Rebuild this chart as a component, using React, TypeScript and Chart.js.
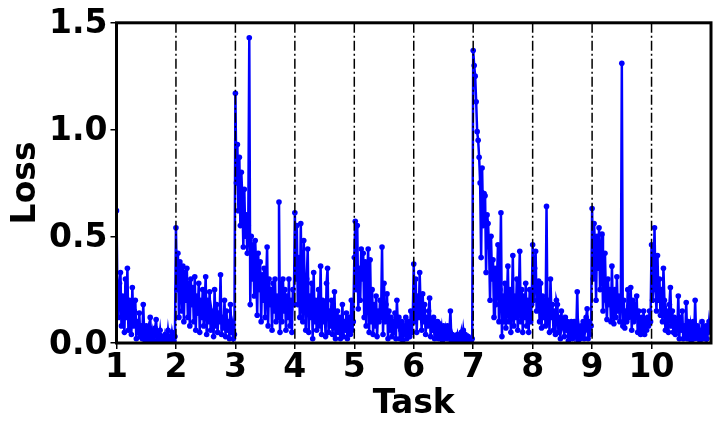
import React, { useEffect, useRef } from "react";
import { Chart, registerables } from "chart.js";

Chart.register(...registerables);

// Loss values per task (60 steps each)
const task1 = [0.62, 0.2, 0.12, 0.28, 0.33, 0.08, 0.22, 0.15, 0.05, 0.3, 0.12, 0.35, 0.06, 0.2, 0.1, 0.04, 0.26, 0.08, 0.15, 0.2, 0.02, 0.1, 0.05, 0.14, 0.03, 0.08, 0.02, 0.18, 0.04, 0.01, 0.08, 0.03, 0.06, 0.01, 0.12, 0.02, 0.05, 0.01, 0.03, 0.07, 0.11, 0.01, 0.04, 0.02, 0.06, 0.01, 0.03, 0.02, 0.01, 0.04, 0.02, 0.01, 0.06, 0.02, 0.03, 0.01, 0.05, 0.02, 0.01, 0.03];
const task2 = [0.54, 0.25, 0.42, 0.12, 0.38, 0.3, 0.15, 0.36, 0.1, 0.33, 0.2, 0.35, 0.12, 0.28, 0.08, 0.3, 0.18, 0.26, 0.1, 0.31, 0.06, 0.22, 0.14, 0.28, 0.05, 0.2, 0.12, 0.25, 0.08, 0.18, 0.31, 0.04, 0.2, 0.1, 0.24, 0.06, 0.15, 0.12, 0.03, 0.25, 0.08, 0.18, 0.05, 0.14, 0.1, 0.32, 0.04, 0.12, 0.07, 0.2, 0.03, 0.15, 0.06, 0.1, 0.02, 0.18, 0.05, 0.08, 0.02, 0.04];
const task3 = [1.17, 0.75, 0.93, 0.62, 0.87, 0.55, 0.8, 0.68, 0.45, 0.72, 0.5, 0.6, 0.42, 0.55, 1.43, 0.18, 0.5, 0.3, 0.46, 0.22, 0.48, 0.35, 0.13, 0.42, 0.25, 0.38, 0.1, 0.32, 0.2, 0.35, 0.12, 0.28, 0.45, 0.08, 0.3, 0.18, 0.25, 0.06, 0.28, 0.15, 0.3, 0.1, 0.22, 0.12, 0.66, 0.05, 0.28, 0.1, 0.3, 0.15, 0.25, 0.06, 0.22, 0.12, 0.3, 0.08, 0.2, 0.05, 0.25, 0.18];
const task4 = [0.61, 0.3, 0.55, 0.18, 0.4, 0.12, 0.56, 0.2, 0.1, 0.48, 0.25, 0.06, 0.3, 0.44, 0.05, 0.22, 0.12, 0.28, 0.02, 0.33, 0.1, 0.2, 0.06, 0.15, 0.25, 0.08, 0.36, 0.04, 0.2, 0.1, 0.18, 0.03, 0.28, 0.35, 0.05, 0.15, 0.08, 0.2, 0.04, 0.12, 0.24, 0.02, 0.1, 0.15, 0.05, 0.12, 0.02, 0.08, 0.18, 0.03, 0.1, 0.06, 0.14, 0.02, 0.08, 0.12, 0.04, 0.2, 0.06, 0.1];
const task5 = [0.4, 0.57, 0.25, 0.55, 0.16, 0.35, 0.2, 0.44, 0.3, 0.42, 0.12, 0.38, 0.08, 0.3, 0.44, 0.05, 0.39, 0.1, 0.25, 0.04, 0.18, 0.08, 0.22, 0.03, 0.15, 0.1, 0.2, 0.12, 0.45, 0.04, 0.28, 0.1, 0.18, 0.23, 0.02, 0.15, 0.06, 0.12, 0.03, 0.1, 0.05, 0.14, 0.02, 0.2, 0.08, 0.12, 0.02, 0.06, 0.1, 0.01, 0.08, 0.04, 0.12, 0.02, 0.06, 0.1, 0.03, 0.15, 0.05, 0.12];
const task6 = [0.37, 0.1, 0.3, 0.05, 0.22, 0.12, 0.33, 0.15, 0.06, 0.23, 0.1, 0.18, 0.04, 0.12, 0.08, 0.15, 0.21, 0.03, 0.1, 0.06, 0.12, 0.02, 0.08, 0.05, 0.1, 0.02, 0.09, 0.04, 0.07, 0.01, 0.08, 0.03, 0.06, 0.02, 0.08, 0.03, 0.05, 0.15, 0.01, 0.04, 0.02, 0.03, 0.01, 0.02, 0.04, 0.01, 0.03, 0.02, 0.05, 0.01, 0.06, 0.02, 0.04, 0.01, 0.02, 0.03, 0.01, 0.02, 0.01, 0.02];
const task7 = [1.37, 1.3, 1.25, 1.13, 0.99, 0.95, 0.87, 0.75, 0.4, 0.82, 0.55, 0.7, 0.69, 0.33, 0.6, 0.56, 0.45, 0.2, 0.5, 0.3, 0.39, 0.12, 0.35, 0.18, 0.3, 0.46, 0.1, 0.25, 0.61, 0.03, 0.22, 0.1, 0.28, 0.07, 0.2, 0.36, 0.1, 0.25, 0.05, 0.18, 0.41, 0.08, 0.22, 0.12, 0.3, 0.06, 0.2, 0.43, 0.1, 0.25, 0.05, 0.22, 0.12, 0.28, 0.08, 0.2, 0.05, 0.25, 0.1, 0.18];
const task8 = [0.46, 0.2, 0.35, 0.43, 0.15, 0.25, 0.29, 0.1, 0.28, 0.07, 0.22, 0.12, 0.2, 0.08, 0.64, 0.1, 0.2, 0.05, 0.3, 0.12, 0.18, 0.06, 0.15, 0.04, 0.2, 0.18, 0.05, 0.12, 0.02, 0.15, 0.08, 0.1, 0.03, 0.12, 0.06, 0.1, 0.01, 0.08, 0.03, 0.1, 0.02, 0.06, 0.1, 0.03, 0.05, 0.24, 0.01, 0.06, 0.02, 0.08, 0.03, 0.1, 0.02, 0.06, 0.12, 0.16, 0.02, 0.1, 0.04, 0.08];
const task9 = [0.63, 0.3, 0.56, 0.45, 0.2, 0.5, 0.35, 0.54, 0.25, 0.4, 0.51, 0.15, 0.3, 0.42, 0.2, 0.11, 0.3, 0.18, 0.25, 0.1, 0.36, 0.15, 0.09, 0.25, 0.12, 0.31, 0.15, 0.22, 0.1, 0.2, 1.31, 0.08, 0.2, 0.07, 0.15, 0.1, 0.25, 0.12, 0.18, 0.26, 0.06, 0.2, 0.1, 0.18, 0.12, 0.22, 0.05, 0.15, 0.08, 0.04, 0.12, 0.06, 0.15, 0.04, 0.1, 0.06, 0.12, 0.08, 0.15, 0.1];
const task10 = [0.46, 0.2, 0.3, 0.54, 0.25, 0.15, 0.41, 0.2, 0.3, 0.13, 0.25, 0.1, 0.35, 0.2, 0.06, 0.15, 0.12, 0.05, 0.18, 0.26, 0.08, 0.15, 0.05, 0.12, 0.04, 0.1, 0.06, 0.22, 0.02, 0.12, 0.06, 0.15, 0.02, 0.08, 0.04, 0.19, 0.02, 0.1, 0.05, 0.08, 0.01, 0.06, 0.1, 0.02, 0.2, 0.03, 0.08, 0.02, 0.06, 0.01, 0.05, 0.1, 0.02, 0.06, 0.03, 0.08, 0.02, 0.05, 0.1, 0.06];

const taskLosses = [task1, task2, task3, task4, task5, task6, task7, task8, task9, task10];
const taskTicks = [1, 2, 3, 4, 5, 6, 7, 8, 9, 10];
const boundaryTasks = [2, 3, 4, 5, 6, 7, 8, 9, 10];
const yTicks = [0, 0.5, 1.0, 1.5];

const FONT = "'DejaVu Sans', sans-serif";

export default function App() {
  const ref = useRef<HTMLCanvasElement | null>(null);

  useEffect(() => {
    document.body.style.margin = "0";
    const points: { x: number; y: number }[] = [];
    taskLosses.forEach((arr, t) => {
      arr.forEach((v, i) => points.push({ x: taskTicks[t] + i / arr.length, y: v }));
    });

    const framePlugin = {
      id: "frameAndBoundaries",
      afterDatasetsDraw(chart: any) {
        const { ctx, chartArea, scales } = chart;
        ctx.save();
        ctx.strokeStyle = "#000";
        ctx.lineWidth = 1.5;
        ctx.setLineDash([10, 3, 2, 3]);
        boundaryTasks.forEach((b) => {
          const px = scales.x.getPixelForValue(b);
          ctx.beginPath();
          ctx.moveTo(px, chartArea.top);
          ctx.lineTo(px, chartArea.bottom);
          ctx.stroke();
        });
        ctx.setLineDash([]);
        ctx.lineWidth = 3;
        ctx.strokeRect(chartArea.left, chartArea.top, chartArea.right - chartArea.left, chartArea.bottom - chartArea.top);
        ctx.restore();
      },
    };

    const chart = new Chart(ref.current as HTMLCanvasElement, {
      type: "line",
      data: {
        datasets: [
          {
            data: points,
            borderColor: "#0000ff",
            backgroundColor: "#0000ff",
            borderWidth: 2.5,
            pointRadius: 2.8,
            pointBorderWidth: 0,
            pointBackgroundColor: "#0000ff",
            tension: 0,
          },
        ],
      },
      options: {
        animation: false,
        responsive: false,
        maintainAspectRatio: false,
        layout: { padding: { top: 22, right: 9, left: 0, bottom: 0 } },
        plugins: { legend: { display: false }, tooltip: { enabled: false } },
        scales: {
          x: {
            type: "linear",
            min: 1,
            max: 11,
            afterBuildTicks: (s: any) => {
              s.ticks = taskTicks.map((v) => ({ value: v }));
            },
            afterFit: (s: any) => {
              s.height = 89;
            },
            grid: { drawOnChartArea: false, tickLength: 6, color: "#000", lineWidth: 1.5 },
            border: { display: false },
            ticks: {
              color: "#000",
              padding: 0,
              maxRotation: 0,
              autoSkip: false,
              font: { family: FONT, size: 33, weight: "bold" },
              callback: (v: any) => String(v),
            },
            title: {
              display: true,
              text: "Task",
              color: "#000",
              padding: { top: 0, bottom: 8 },
              font: { family: FONT, size: 33, weight: "bold" },
            },
          },
          y: {
            min: 0,
            max: 1.5,
            afterBuildTicks: (s: any) => {
              s.ticks = yTicks.map((v) => ({ value: v }));
            },
            afterFit: (s: any) => {
              s.width = 116.5;
            },
            grid: { drawOnChartArea: false, tickLength: 6, color: "#000", lineWidth: 1.5 },
            border: { display: false },
            ticks: {
              color: "#000",
              padding: 3,
              labelOffset: 2,
              font: { family: FONT, size: 33, weight: "bold" },
              callback: (v: any) => Number(v).toFixed(1),
            },
            title: {
              display: true,
              text: "Loss",
              color: "#000",
              padding: { top: 7, bottom: 0 },
              font: { family: FONT, size: 33, weight: "bold" },
            },
          },
        },
      },
      plugins: [framePlugin],
    });
    return () => chart.destroy();
  }, []);

  return (
    <div style={{ position: "fixed", left: 0, top: 0, width: 720, height: 432 }}>
      <canvas ref={ref} width={720} height={432} style={{ width: 720, height: 432 }} />
    </div>
  );
}
